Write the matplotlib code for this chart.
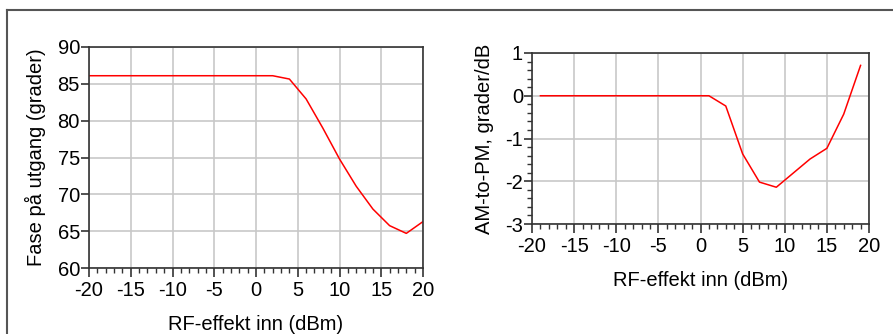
import numpy as np
import matplotlib.pyplot as plt
from matplotlib.lines import Line2D
from matplotlib.ticker import MultipleLocator

plt.rcParams['font.family'] = ['Liberation Sans', 'DejaVu Sans']
plt.rcParams['axes.unicode_minus'] = False

# Fase paa utgang vs. RF-effekt inn
pin_fase = [-20, -18, -16, -14, -12, -10, -8, -6, -4, -2, 0, 2, 4, 6, 8, 10, 12, 14, 16, 18, 20]
fase = [86.1, 86.1, 86.1, 86.1, 86.1, 86.1, 86.1, 86.1, 86.1, 86.1, 86.1, 86.1,
        85.65, 82.95, 79.0, 74.8, 71.1, 68.0, 65.75, 64.7, 66.3]

# AM-to-PM vs. RF-effekt inn
pin_ampm = [-19, -17, -15, -13, -11, -9, -7, -5, -3, -1, 1, 3, 5, 7, 9, 11, 13, 15, 17, 19]
ampm = [0, 0, 0, 0, 0, 0, 0, 0, 0, 0, 0, -0.24, -1.36, -2.02, -2.14, -1.81, -1.48, -1.23, -0.43, 0.71]

xticks = [-20, -15, -10, -5, 0, 5, 10, 15, 20]

fig = plt.figure(figsize=(8.93, 3.34), dpi=100)

# outer frame
fig.add_artist(Line2D([7/893, 7/893], [0, 1 - 10/334], transform=fig.transFigure, color='#555555', lw=1.5))
fig.add_artist(Line2D([7/893, 1], [1 - 10/334, 1 - 10/334], transform=fig.transFigure, color='#555555', lw=1.5))

ax1 = fig.add_axes([89/893, 1 - 268/334, (423-89)/893, (268-47)/334])
ax2 = fig.add_axes([532/893, 1 - 224/334, (869-532)/893, (224-53)/334])

def style(ax):
    for s in ax.spines.values():
        s.set_color('#333333')
        s.set_linewidth(1.2)
    ax.grid(True, which='major', color='#c8c8c8', lw=1.2)
    ax.set_axisbelow(True)
    ax.tick_params(which='major', direction='out', length=5.5, width=1.2, color='#333333',
                   labelsize=14.5, pad=1)
    ax.tick_params(axis='x', which='major', length=6.5, pad=3)
    ax.tick_params(which='minor', direction='out', length=3.5, width=1, color='#333333')
    ax.set_xlim(-20, 20)
    ax.set_xticks(xticks)
    ax.xaxis.set_minor_locator(MultipleLocator(1))

ax1.plot(pin_fase, fase, color='red', lw=1.1)
style(ax1)
ax1.set_ylim(60, 90)
ax1.set_yticks([60, 65, 70, 75, 80, 85, 90])
ax1.set_xlabel('RF-effekt inn (dBm)', fontsize=14.5, labelpad=11)
ax1.set_ylabel('Fase på utgang (grader)', fontsize=14.5, labelpad=8)

ax2.plot(pin_ampm, ampm, color='red', lw=1.1)
style(ax2)
ax2.set_ylim(-3, 1)
ax2.set_yticks([-3, -2, -1, 0, 1])
ax2.yaxis.set_minor_locator(MultipleLocator(0.2))
ax2.set_xlabel('RF-effekt inn (dBm)', fontsize=14.5, labelpad=11)
ax2.set_ylabel('AM-to-PM, grader/dB', fontsize=14.5, labelpad=8)

fig.savefig('out.png', dpi=100)
